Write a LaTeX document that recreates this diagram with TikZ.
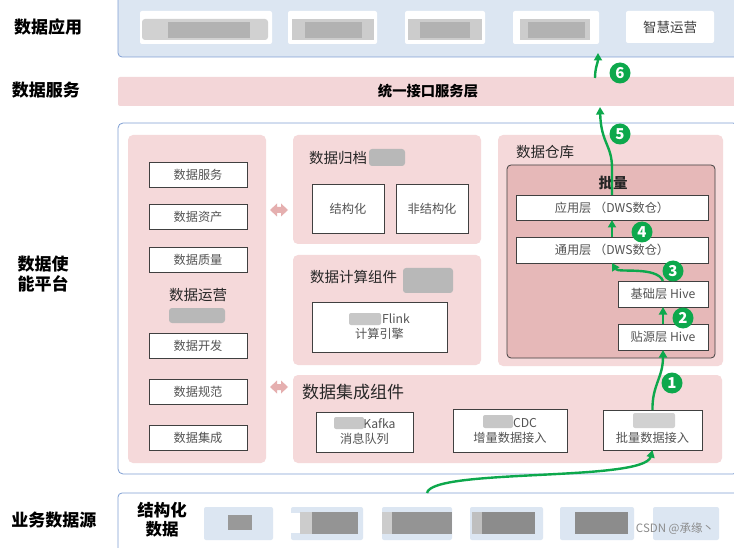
\documentclass[tikz,border=0pt]{standalone}
\usepackage{fontspec}
\setmainfont{Noto Sans CJK SC}
\usetikzlibrary{arrows.meta}
\definecolor{appblue}{HTML}{DCE6F2}
\definecolor{frameblue}{HTML}{7F9ED3}
\definecolor{bandpink}{HTML}{F3D6D8}
\definecolor{panelpink}{HTML}{F5D9DA}
\definecolor{batchpink}{HTML}{E6B8B8}
\definecolor{arrowpink}{HTML}{E5AFAF}
\definecolor{flowgreen}{HTML}{0DA84C}
\definecolor{txtgray}{HTML}{404040}
\newcommand\bx[7]{\node[#6,anchor=north west,minimum width={(#4)-(#2)},minimum height={(#5)-(#3)}] (#1) at (#2,#3) {#7};}
\tikzset{
 base/.style={inner sep=0pt, outer sep=0pt, align=center},
 frame/.style={base, draw=frameblue, line width=0.8pt, rounded corners=4pt},
 panel/.style={base, fill=panelpink, rounded corners=5pt},
 item/.style={base, draw=txtgray, fill=white, line width=0.8pt, text=txtgray!90, font=\fontsize{12.2}{15}\selectfont},
 whitecard/.style={base, fill=white, rounded corners=2pt},
 srccard/.style={base, fill=appblue, rounded corners=2pt},
 blurgray/.style={fill=black!28, rounded corners=3pt},
 sidelabel/.style={font=\fontsize{17}{19.5}\selectfont\bfseries, text=black, align=left},
 paneltitle/.style={anchor=west, inner sep=0pt, font=\fontsize{14.5}{17}\selectfont, text=black!85},
 flow/.style={draw=flowgreen, line width=2.4pt, -{Triangle[length=7.5pt,width=8pt]}},
 stepnum/.style={circle, fill=flowgreen, text=white, minimum size=21pt, inner sep=0pt, font=\fontsize{15}{15}\selectfont\bfseries},
}
\begin{document}
\begin{tikzpicture}[x=1pt,y=-1pt]
\useasboundingbox (0,0) rectangle (734,548);
% side labels
\node[sidelabel] (l1) at (48,27) {数据应用};
\node[sidelabel] (l2) at (46,90) {数据服务};
\node[sidelabel] (l3) at (43,274) {数据使\\能平台};
\node[sidelabel] (l4) at (54,520) {业务数据源};
% application layer
\bx{app}{118}{-4}{738}{57}{frame, fill=appblue}{}
\bx{a1}{140}{11}{272}{44}{whitecard}{}
\bx{a2}{288}{11}{377}{44}{whitecard}{}
\bx{a3}{405}{11}{485}{44}{whitecard}{}
\bx{a4}{513}{11}{599}{44}{whitecard}{}
\bx{zhyy}{626}{11}{714}{43}{whitecard, text=txtgray, font=\fontsize{13.5}{15}\selectfont}{智慧运营}
\fill[black!18, rounded corners=3pt] (142,19) rectangle (268,40);
\fill[black!20] (292,19) rectangle (374,40);
\fill[black!20] (408,19) rectangle (482,40);
\fill[black!20] (520,19) rectangle (590,40);
\fill[black!30] (168,22) rectangle (250,38);
\fill[black!30] (305,22) rectangle (362,38);
\fill[black!30] (420,22) rectangle (470,38);
\fill[black!30] (528,22) rectangle (585,38);
% service band
\bx{band}{118}{77}{738}{106}{base, fill=bandpink, rounded corners=2pt, font=\fontsize{14.3}{16}\selectfont\bfseries}{统一接口服务层}
% platform
\bx{plat}{118}{123}{738}{474}{frame, fill=white, rounded corners=5pt}{}
\bx{ops}{128}{135}{266}{463}{panel}{}
\bx{o1}{149}{162}{247}{187}{item}{数据服务}
\bx{o2}{149}{204}{247}{229}{item}{数据资产}
\bx{o3}{149}{247}{247}{272}{item}{数据质量}
\bx{o4}{149}{333}{247}{358}{item}{数据开发}
\bx{o5}{149}{379}{247}{404}{item}{数据规范}
\bx{o6}{149}{425}{247}{450}{item}{数据集成}
\node[inner sep=0pt, font=\fontsize{14.5}{17}\selectfont, text=black!85] (opst) at (198,295) {数据运营};
\fill[blurgray] (169,308) rectangle (225,323);
% double arrows
\fill[arrowpink] (270,210) -- ++(7,-6.5) -- ++(0,3.5) -- ++(4,0) -- ++(0,-3.5) -- ++(7,6.5) -- ++(-7,6.5) -- ++(0,-3.5) -- ++(-4,0) -- ++(0,3.5) -- cycle;
\fill[arrowpink] (270,387) -- ++(7,-6.5) -- ++(0,3.5) -- ++(4,0) -- ++(0,-3.5) -- ++(7,6.5) -- ++(-7,6.5) -- ++(0,-3.5) -- ++(-4,0) -- ++(0,3.5) -- cycle;
% archive
\bx{arch}{293}{135}{481}{244}{panel}{}
\node[paneltitle] (archt) at (309,158) {数据归档};
\fill[blurgray] (369,149) rectangle (405,166);
\bx{jg}{312}{184}{384}{233}{item}{结构化}
\bx{fjg}{396}{184}{468}{233}{item}{非结构化}
% compute
\bx{comp}{293}{255}{481}{365}{panel}{}
\node[paneltitle] (compt) at (310,277) {数据计算组件};
\fill[blurgray] (403,268) rectangle (453,293);
\bx{flink}{312}{302}{447}{352}{item}{\hspace*{33pt}Flink\\计算引擎}
\fill[black!22, rounded corners=2pt] (349,313) rectangle (381,325);
% integration
\bx{integ}{293}{375}{722}{463}{panel}{}
\node[paneltitle, font=\fontsize{17}{19}\selectfont] (integt) at (302,392) {数据集成组件};
\bx{kafka}{316}{412}{413}{452}{item}{\hspace*{30pt}Kafka\\消息队列}
\fill[black!22, rounded corners=2pt] (334,417) rectangle (364,429);
\bx{cdc}{453}{409}{567}{452}{item}{\hspace*{30pt}CDC\\增量数据接入}
\fill[black!22, rounded corners=2pt] (483,415) rectangle (513,428);
\bx{pbatch}{603}{410}{702}{450}{item}{\rule{0pt}{12pt}\\批量数据接入}
\fill[black!18, rounded corners=2pt] (633,413) rectangle (675,428);
% warehouse
\bx{dw}{498}{135}{723}{366}{panel}{}
\node[paneltitle] (dwt) at (516,152) {数据仓库};
\bx{batch}{507}{165}{715}{358}{base, fill=batchpink, draw=txtgray, line width=0.8pt, rounded corners=4pt}{}
\node[inner sep=0pt, font=\fontsize{14.5}{16}\selectfont\bfseries, text=black!85] (batcht) at (613,183) {批量};
\bx{yingyong}{516}{195}{708}{220}{item}{应用层 （DWS数仓）}
\bx{tongyong}{516}{237}{708}{263}{item}{通用层 （DWS数仓）}
\bx{jichu}{618}{281}{708}{307}{item}{基础层 Hive}
\bx{tieyuan}{618}{324}{708}{350}{item}{贴源层 Hive}
% source
\bx{src}{118}{493}{738}{556}{frame, fill=white}{}
\node[font=\fontsize{16.5}{19}\selectfont\bfseries, align=center] (jgsj) at (162,520) {结构化\\数据};
\bx{s1}{204}{507}{273}{540}{srccard}{}
\bx{s2}{291}{507}{363}{540}{srccard}{}
\bx{s3}{382}{507}{452}{540}{srccard}{}
\bx{s4}{470}{507}{543}{540}{srccard}{}
\bx{s5}{560}{507}{634}{540}{srccard}{}
\bx{s6}{653}{507}{719}{540}{srccard}{}
\fill[black!40] (228,515) rectangle (252,530);
\fill[white] (280,513) rectangle (300,533);
\fill[black!20] (300,512) rectangle (312,534);
\fill[black!42] (312,512) rectangle (358,534);
\fill[black!20] (382,512) rectangle (392,534);
\fill[black!42] (392,512) rectangle (452,534);
\fill[black!25] (472,512) rectangle (482,534);
\fill[black!45] (482,512) rectangle (535,534);
\fill[black!45] (575,512) rectangle (628,534);
\node[text=black!45, font=\fontsize{11.5}{13}\selectfont] (wm) at (675,529) {CSDN @承缘丶};
% flow arrows
\coordinate (f1s) at (427,493);
\draw[flow] (f1s) .. controls (432,468) and (644,482) .. (pbatch.south);
\draw[flow] (pbatch.north) .. controls (652,385) and (663,378) .. (tieyuan.south);
\draw[flow] (tieyuan.north) -- (jichu.south);
\draw[flow] (jichu.north) .. controls (657,266) and (618,273) .. (tongyong.south);
\draw[flow] (tongyong.north) -- (yingyong.south);
\coordinate (f5e) at (600,107);
\draw[flow] (yingyong.north) -- (612,168) .. controls (612,145) and (601,143) .. (f5e);
\coordinate (f6s) at (595,78);
\coordinate (f6e) at (598,53);
\draw[flow] (f6s) .. controls (595,68) and (598,62) .. (f6e);
\node[stepnum] (n1) at (672,383) {1};
\node[stepnum] (n2) at (683,318) {2};
\node[stepnum] (n3) at (673,271) {3};
\node[stepnum] (n4) at (642,232) {4};
\node[stepnum] (n5) at (620,134) {5};
\node[stepnum] (n6) at (620,73) {6};
\end{tikzpicture}
\end{document}
